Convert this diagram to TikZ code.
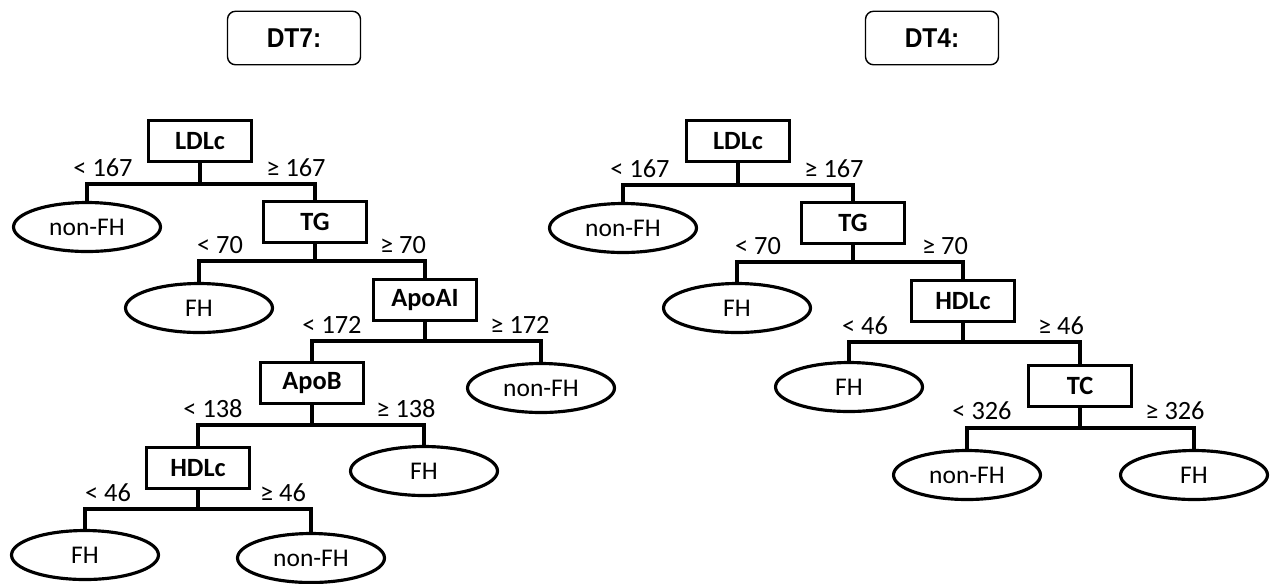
\documentclass[tikz,border=0pt]{standalone}
\usepackage{fontspec}
\setmainfont{Carlito}
\newfontfamily\titlefont[FakeStretch=0.9]{Liberation Sans}
\usetikzlibrary{shapes.geometric}

\begin{document}
\begin{tikzpicture}
[x=0.02cm, y=-0.02cm, line width=1.8pt,
split/.style={draw, rectangle, inner sep=0pt,
minimum width=2.06cm, minimum height=0.82cm,
font=\fontsize{15}{17}\selectfont\bfseries},
leaf/.style={draw, ellipse, inner sep=0pt,
minimum width=2.94cm, minimum height=0.98cm,
font=\fontsize{14.5}{16}\selectfont},
cond/.style={anchor=base, inner sep=0pt, font=\fontsize{15}{17}\selectfont},
title/.style={draw, line width=0.8pt, rounded corners=0.16cm,
minimum width=2.66cm, minimum height=1.07cm,
font=\titlefont\fontsize{15.5}{17}\selectfont\bfseries}]
\useasboundingbox (0,0) rectangle (1273,583);

% titles
\node (t7) at (294,38) [title] {DT7:};
\node (t4) at (932,38) [title] {DT4:};

% DT7
\node (ldlc7) at (200,141) [split] {LDLc};
\node (nf7a) at (87,227) [leaf] {non-FH};
\node (tg7) at (315,222) [split] {TG};
\node (fh7a) at (199,308) [leaf] {FH};
\node (apoai7) at (425,300) [split] {ApoAI};
\node (nf7b) at (541,388) [leaf] {non-FH};
\node (apob7) at (312,383) [split] {ApoB};
\node (fh7b) at (424,471) [leaf] {FH};
\node (hdlc7) at (198,468) [split] {HDLc};
\node (fh7c) at (85,555) [leaf] {FH};
\node (nf7c) at (311,558) [leaf] {non-FH};

\coordinate (s7a) at (200,184);
\coordinate (s7b) at (315,261);
\coordinate (s7c) at (425,341);
\coordinate (s7d) at (312,425);
\coordinate (s7e) at (198,509);

\draw (ldlc7) -- (s7a);
\draw (nf7a) |- (s7a) -| (tg7);
\draw (tg7) -- (s7b);
\draw (fh7a) |- (s7b) -| (apoai7);
\draw (apoai7) -- (s7c);
\draw (apob7) |- (s7c) -| (nf7b);
\draw (apob7) -- (s7d);
\draw (hdlc7) |- (s7d) -| (fh7b);
\draw (hdlc7) -- (s7e);
\draw (fh7c) |- (s7e) -| (nf7c);

\node (c1) at (103,176) [cond] {< 167};
\node (c2) at (296,176) [cond] {≥ 167};
\node (c3) at (220,253) [cond] {< 70};
\node (c4) at (403,253) [cond] {≥ 70};
\node (c5) at (332,333) [cond] {< 172};
\node (c6) at (520,333) [cond] {≥ 172};
\node (c7) at (213,417) [cond] {< 138};
\node (c8) at (406,417) [cond] {≥ 138};
\node (c9) at (108,501) [cond] {< 46};
\node (c10) at (283,501) [cond] {≥ 46};

% DT4
\node (ldlc4) at (738,141) [split] {LDLc};
\node (nf4a) at (623,228) [leaf] {non-FH};
\node (tg4) at (853,223) [split] {TG};
\node (fh4a) at (737,308) [leaf] {FH};
\node (hdlc4) at (963,301) [split] {HDLc};
\node (fh4b) at (849,387) [leaf] {FH};
\node (tc4) at (1080,386) [split] {TC};
\node (nf4b) at (967,475) [leaf] {non-FH};
\node (fh4c) at (1194,475) [leaf] {FH};

\coordinate (s4a) at (738,185);
\coordinate (s4b) at (853,262);
\coordinate (s4c) at (963,342);
\coordinate (s4d) at (1080,428);

\draw (ldlc4) -- (s4a);
\draw (nf4a) |- (s4a) -| (tg4);
\draw (tg4) -- (s4b);
\draw (fh4a) |- (s4b) -| (hdlc4);
\draw (hdlc4) -- (s4c);
\draw (fh4b) |- (s4c) -| (tc4);
\draw (tc4) -- (s4d);
\draw (nf4b) |- (s4d) -| (fh4c);

\node (d1) at (640,177) [cond] {< 167};
\node (d2) at (834,177) [cond] {≥ 167};
\node (d3) at (758,254) [cond] {< 70};
\node (d4) at (945,254) [cond] {≥ 70};
\node (d5) at (865,334) [cond] {< 46};
\node (d6) at (1061,334) [cond] {≥ 46};
\node (d7) at (982,419) [cond] {< 326};
\node (d8) at (1175,419) [cond] {≥ 326};

\end{tikzpicture}
\end{document}
